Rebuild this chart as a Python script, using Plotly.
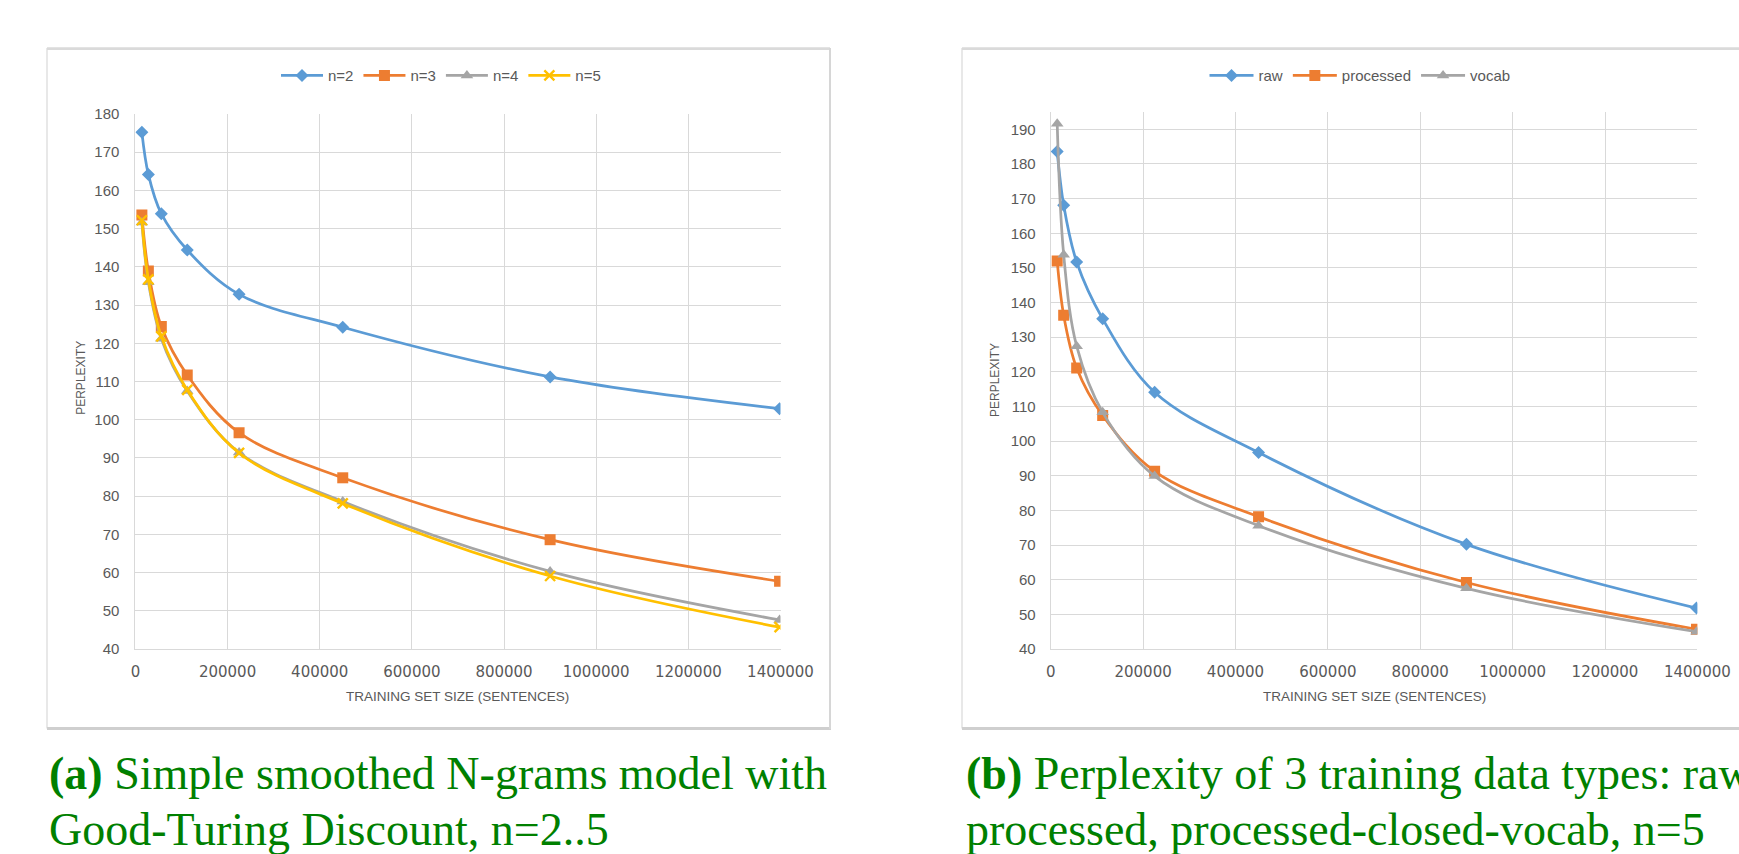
import plotly.graph_objects as go

W, H = 1739, 854

# ---------------- data ----------------
train_sizes = [14062, 28125, 56250, 112500, 225000, 450000, 900000, 1398000]

ngram_names = ["n=2", "n=3", "n=4", "n=5"]
ppl_n2 = [175.2, 164.2, 153.9, 144.4, 132.8, 124.2, 111.2, 102.9]
ppl_n3 = [153.6, 138.9, 124.4, 111.7, 96.6, 84.8, 68.6, 57.7]
ppl_n4 = [151.6, 136.0, 121.2, 107.5, 91.4, 78.6, 60.3, 47.6]
ppl_n5 = [152.2, 136.7, 121.8, 107.8, 91.3, 78.1, 59.1, 45.7]

type_names = ["raw", "processed", "vocab"]
ppl_raw = [183.6, 168.1, 151.7, 135.3, 114.1, 96.7, 70.2, 51.8]
ppl_processed = [152.0, 136.3, 121.1, 107.4, 91.3, 78.2, 59.2, 45.7]
ppl_vocab = [191.6, 153.8, 127.4, 108.3, 89.9, 75.6, 57.5, 45.0]

x_tickvals = [0, 200000, 400000, 600000, 800000, 1000000, 1200000, 1400000]
x_ticktext = ["0", "200000", "400000", "600000", "800000", "1000000", "1200000", "1400000"]
y_ticks_a = list(range(40, 181, 10))
y_ticks_b = list(range(40, 191, 10))

x_title = "TRAINING SET SIZE (SENTENCES)"
y_title = "PERPLEXITY"
caption_a = ["<b>(a)</b> Simple smoothed N-grams model with", "Good-Turing Discount, n=2..5"]
caption_b = ["<b>(b)</b> Perplexity of 3 training data types: raw,", "processed, processed-closed-vocab, n=5"]

# ---------------- styles ----------------
colors = ["#5B9BD5", "#ED7D31", "#A5A5A5", "#FFC000"]
symbols = ["diamond", "square", "triangle-up", "x-thin"]
msizes = [10, 11, 11, 10]
GRID = "#D9D9D9"
TXT = "#595959"


def px(x):
    return x / W


def py(y):
    return 1 - y / H


fig = go.Figure()


def add_series(xs, ys, name, i, xa, ya, legend):
    sym = symbols[i]
    marker = dict(color=colors[i], size=msizes[i], symbol=sym)
    if sym == "x-thin":
        marker["line"] = dict(color=colors[i], width=2.4)
    fig.add_trace(go.Scatter(
        x=xs, y=ys, name=name, mode="lines+markers",
        line=dict(color=colors[i], width=2.75, shape="spline", smoothing=1.0),
        marker=marker, xaxis=xa, yaxis=ya, legend=legend,
    ))


for i, (nm, ys) in enumerate(zip(ngram_names, [ppl_n2, ppl_n3, ppl_n4, ppl_n5])):
    add_series(train_sizes, ys, nm, i, "x", "y", "legend")
for i, (nm, ys) in enumerate(zip(type_names, [ppl_raw, ppl_processed, ppl_vocab])):
    add_series(train_sizes, ys, nm, i, "x2", "y2", "legend2")

axis_common = dict(showgrid=True, gridcolor=GRID, gridwidth=1, zeroline=False,
                   showline=True, linecolor=GRID, linewidth=1, ticks="",
                   fixedrange=True, automargin=False)

xfont = dict(family="DejaVu Sans, Liberation Sans, Arial", size=15, color=TXT)
yfont = dict(family="Liberation Sans, Arial", size=15, color=TXT)
legfont = dict(family="Liberation Sans, Arial", size=15, color=TXT)

fig.update_layout(
    width=W, height=H, autosize=False,
    margin=dict(l=0, r=0, t=0, b=0, pad=0, autoexpand=False),
    paper_bgcolor="white", plot_bgcolor="white",
    showlegend=True,
    xaxis=dict(domain=[px(135.4), px(780.5)], range=[0, 1400000], anchor="y",
               tickvals=x_tickvals, ticktext=x_ticktext, tickfont=xfont,
               ticklabelstandoff=9, **axis_common),
    yaxis=dict(domain=[py(649), py(114)], range=[40, 180], anchor="x",
               tickvals=y_ticks_a, tickfont=yfont, ticklabelstandoff=12,
               **axis_common),
    xaxis2=dict(domain=[px(1050.7), px(1697.4)], range=[0, 1400000], anchor="y2",
                tickvals=x_tickvals, ticktext=x_ticktext, tickfont=xfont,
                ticklabelstandoff=9, **axis_common),
    yaxis2=dict(domain=[py(649), py(112)], range=[40, 195], anchor="x2",
                tickvals=y_ticks_b, tickfont=yfont, ticklabelstandoff=11,
                **axis_common),
    legend=dict(orientation="h", x=px(441), y=py(75.7), xanchor="center",
                yanchor="middle", font=legfont,
                bgcolor="rgba(0,0,0,0)", itemwidth=42),
    legend2=dict(orientation="h", x=px(1360), y=py(75.7), xanchor="center",
                 yanchor="middle", font=legfont,
                 bgcolor="rgba(0,0,0,0)", itemwidth=44),
)

# panel frames
shapes = []
for (x0, x1) in [(47, 830), (962, 1760)]:
    shapes.append(dict(type="rect", xref="paper", yref="paper", x0=px(x0), x1=px(x1),
                       y0=py(728), y1=py(48.5), line=dict(color=GRID, width=1.2),
                       fillcolor="rgba(0,0,0,0)", layer="below"))
    shapes.append(dict(type="line", xref="paper", yref="paper", x0=px(x0), x1=px(x1),
                       y0=py(48.7), y1=py(48.7), line=dict(color="#DADADA", width=2.8)))
    shapes.append(dict(type="line", xref="paper", yref="paper", x0=px(x0), x1=px(x1 + 1),
                       y0=py(728.5), y1=py(728.5), line=dict(color="#CFCFCF", width=2.8)))
shapes.append(dict(type="line", xref="paper", yref="paper", x0=px(830), x1=px(830),
                   y0=py(729), y1=py(48), line=dict(color="#D6D6D6", width=2)))
fig.update_layout(shapes=shapes)

ann = []
# axis titles
for cx in [457, 1374]:
    ann.append(dict(text=x_title, x=px(cx), y=py(696), xref="paper", yref="paper",
                    showarrow=False, xanchor="center", yanchor="middle",
                    font=dict(family="Liberation Sans, Arial", size=13.5, color=TXT)))
for cx, cy in [(80.8, 378), (995, 380)]:
    ann.append(dict(text=y_title, x=px(cx), y=py(cy), xref="paper", yref="paper",
                    showarrow=False, xanchor="center", yanchor="middle", textangle=-90,
                    font=dict(family="Liberation Sans, Arial", size=12, color=TXT)))
# captions
cap_font = dict(family="Liberation Serif, Times New Roman, serif", size=46, color="#008000")
for cx, lines in [(46.6, caption_a), (964, caption_b)]:
    for k, (line, cy) in enumerate(zip(lines, [773, 829])):
        ann.append(dict(text=line, x=px(cx), y=py(cy), xref="paper", yref="paper",
                        showarrow=False, xanchor="left", yanchor="middle",
                        font=cap_font))
fig.update_layout(annotations=ann)

fig.write_html("out.html", config={"displayModeBar": False},
               post_script="document.body.style.margin='0px';document.body.style.overflow='hidden';")
